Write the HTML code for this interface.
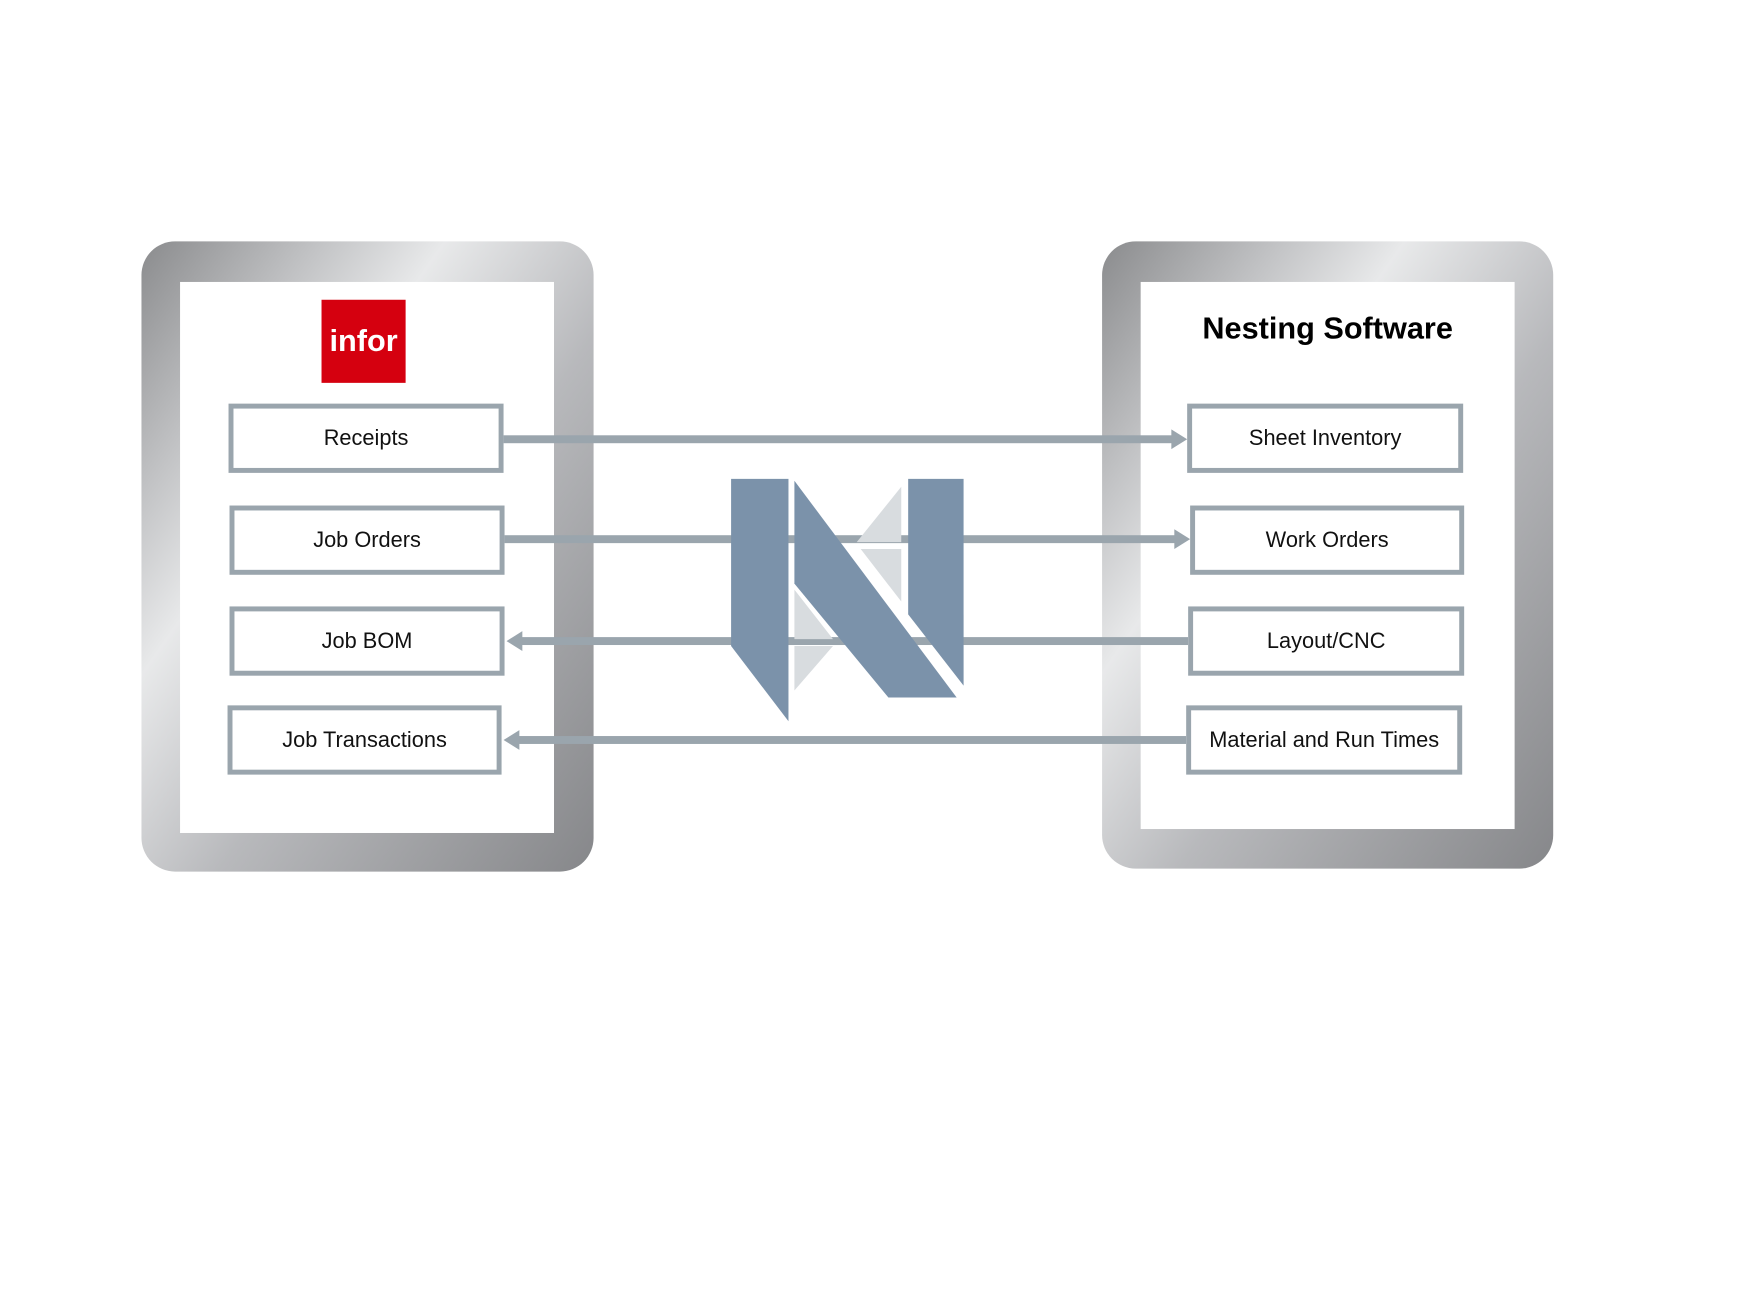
<!DOCTYPE html>
<html><head><meta charset="utf-8"><style>
body{margin:0;width:1744px;height:1298px;background:#fff;position:relative;overflow:hidden;font-family:"Liberation Sans",sans-serif}
#w{position:absolute;left:0;top:0;width:1744px;height:1298px;transform:scale(0.9893);transform-origin:0 0}
.frame{position:absolute;border-radius:34px;background:linear-gradient(125deg,#8a8b8d 0%,#c2c3c5 20%,#e8e9ea 34%,#b8b9bc 58%,#86878a 100%)}
.inner{position:absolute;background:#fff}
.box{position:absolute;box-sizing:border-box;border:5px solid #9aa5ad;background:#fff;display:flex;align-items:center;justify-content:center;font-size:22px;color:#111}
svg{position:absolute;left:0;top:0}
</style></head><body><div id="w">
<div class="frame" style="left:143px;top:244px;width:457px;height:637px"></div>
<div class="inner" style="left:182px;top:285px;width:378px;height:557px"></div>
<div class="frame" style="left:1114px;top:244px;width:456px;height:634px"></div>
<div class="inner" style="left:1153px;top:285px;width:378px;height:553px"></div>
<div style="position:absolute;left:325px;top:303px;width:85px;height:84px;background:#d5000f;color:#fff;font-weight:bold;font-size:31px;display:flex;align-items:center;justify-content:center">infor</div>
<div style="position:absolute;left:1153px;top:314px;width:378px;text-align:center;font-weight:bold;font-size:31px;color:#000">Nesting Software</div>
<svg width="1744" height="1298">
<g fill="#9aa5ad">
<rect x="509" y="440" width="677" height="8"/><polygon points="1184,434 1200,444 1184,454"/>
<rect x="510" y="541" width="679" height="8"/><polygon points="1187,535 1203,545 1187,555"/>
<rect x="526" y="644" width="675" height="8"/><polygon points="512,648 528,638 528,658"/>
<rect x="523" y="744" width="676" height="8"/><polygon points="509,748 525,738 525,758"/>
</g>
<g fill="#d8dcdf">
<polygon points="866,548 911,492 911,548"/>
<polygon points="870,555 911,555 911,608"/>
<polygon points="803,596 842,646 803,646"/>
<polygon points="803,653 842,653 803,698"/>
</g>
<g fill="#7b92aa">
<polygon points="739,484 797,484 797,729 739,653"/>
<polygon points="803,486 803,590 898,705 967,705"/>
<polygon points="918,484 974,484 974,693 918,621"/>
</g>
</svg>
<div class="box" style="left:231px;top:408px;width:278px;height:70px">Receipts</div>
<div class="box" style="left:232px;top:511px;width:278px;height:70px">Job Orders</div>
<div class="box" style="left:232px;top:613px;width:278px;height:70px">Job BOM</div>
<div class="box" style="left:230px;top:713px;width:277px;height:70px">Job Transactions</div>
<div class="box" style="left:1200px;top:408px;width:279px;height:70px">Sheet Inventory</div>
<div class="box" style="left:1203px;top:511px;width:277px;height:70px">Work Orders</div>
<div class="box" style="left:1201px;top:613px;width:279px;height:70px">Layout/CNC</div>
<div class="box" style="left:1199px;top:713px;width:279px;height:70px">Material and Run Times</div>
</div></body></html>
